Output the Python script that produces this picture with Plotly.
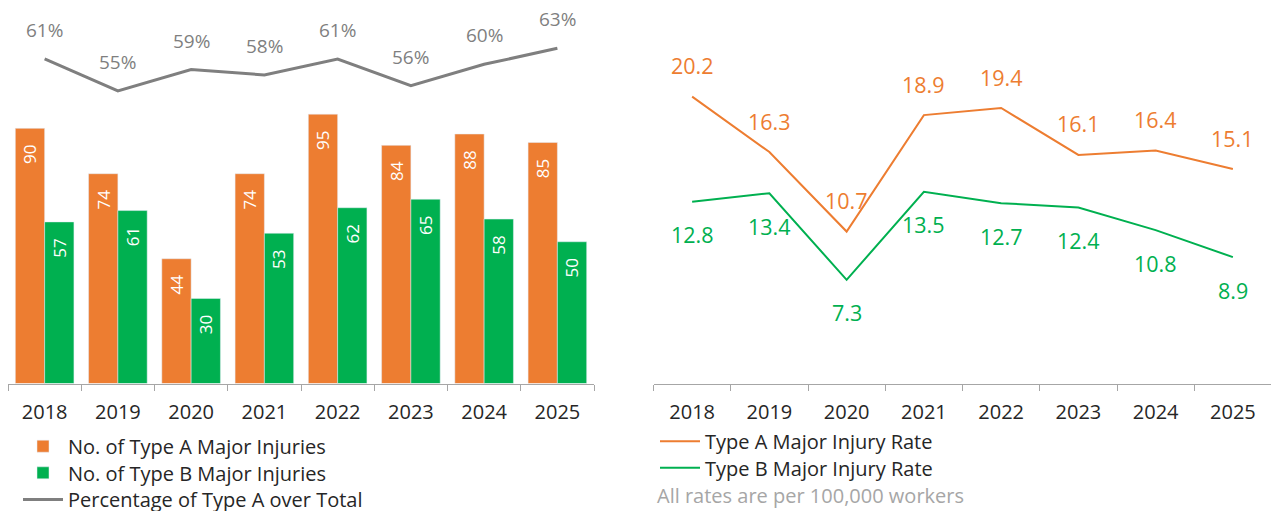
import plotly.graph_objects as go

years = ["2018", "2019", "2020", "2021", "2022", "2023", "2024", "2025"]
type_a_counts = [90, 74, 44, 74, 95, 84, 88, 85]
type_b_counts = [57, 61, 30, 53, 62, 65, 58, 50]
pct_type_a = [61, 55, 59, 58, 61, 56, 60, 63]
type_a_rate = [20.2, 16.3, 10.7, 18.9, 19.4, 16.1, 16.4, 15.1]
type_b_rate = [12.8, 13.4, 7.3, 13.5, 12.7, 12.4, 10.8, 8.9]

ORANGE = "#ED7D31"
GREEN = "#00B050"
GRAY = "#7F7F7F"
AXIS = "#A6A6A6"
TEXT = "#262626"
FONT = "Open Sans"

# page body has an 8px margin; figure starts at (8, 8) in the window
OFF = 8
W, H = 1279 - OFF, 511 - OFF


def px(x):
    return min(1.0, max(0.0, (x - OFF) / W))


def py(y):
    return min(1.0, max(0.0, 1 - (y - OFF) / H))


AXIS_Y = 383.5
TOP_Y = 8
plot_h = AXIS_Y - TOP_Y

NBSP = "\u00a0"
idx = list(range(len(years)))

fig = go.Figure()

fig.add_trace(go.Bar(
    x=years, y=type_a_counts, name="No. of Type A Major Injuries",
    marker_color=ORANGE, texttemplate="%{y}" + NBSP * 3, textposition="inside",
    insidetextanchor="end", textangle=-90,
    textfont=dict(color="white", size=19, family=FONT),
    xaxis="x", yaxis="y", legend="legend",
))
fig.add_trace(go.Bar(
    x=years, y=type_b_counts, name="No. of Type B Major Injuries",
    marker_color=GREEN, texttemplate="%{y}" + NBSP * 3, textposition="inside",
    insidetextanchor="end", textangle=-90,
    textfont=dict(color="white", size=19, family=FONT),
    xaxis="x", yaxis="y", legend="legend2",
))
fig.add_trace(go.Scatter(
    x=years, y=pct_type_a, name="Percentage of Type A over Total",
    mode="lines", line=dict(color=GRAY, width=3),
    xaxis="x", yaxis="y2", legend="legend3", cliponaxis=False,
))

fig.add_trace(go.Scatter(
    x=years, y=type_a_rate, name="Type A Major Injury Rate",
    mode="lines", line=dict(color=ORANGE, width=2),
    xaxis="x2", yaxis="y3", legend="legend4",
))
fig.add_trace(go.Scatter(
    x=years, y=type_b_rate, name="Type B Major Injury Rate",
    mode="lines", line=dict(color=GREEN, width=2),
    xaxis="x2", yaxis="y3", legend="legend5",
))

annotations = []
for i, v in zip(idx, pct_type_a):
    annotations.append(dict(x=i, y=v, xref="x", yref="y2", text=f"{v}%",
                            showarrow=False, yshift=29,
                            font=dict(color=GRAY, size=19, family=FONT)))
for i, v in zip(idx, type_a_rate):
    annotations.append(dict(x=i, y=v, xref="x2", yref="y3", text=f"{v:.1f}",
                            showarrow=False, yshift=31,
                            font=dict(color=ORANGE, size=21.5, family=FONT)))
for i, v in zip(idx, type_b_rate):
    annotations.append(dict(x=i, y=v, xref="x2", yref="y3", text=f"{v:.1f}",
                            showarrow=False, yshift=-33,
                            font=dict(color=GREEN, size=21.5, family=FONT)))
annotations.append(dict(x=px(655), y=py(495.5), xref="paper", yref="paper",
                        xanchor="left", yanchor="middle", showarrow=False,
                        text="All rates are per 100,000 workers",
                        font=dict(color=AXIS, size=20, family=FONT)))

ydom = [py(AXIS_Y), py(TOP_Y)]

xaxis_common = dict(
    type="category", range=[-0.5, 7.5], showgrid=False, zeroline=False,
    showline=True, linecolor=AXIS, linewidth=1, ticks="outside",
    tickson="boundaries", ticklen=6, tickcolor=AXIS,
    tickfont=dict(color=TEXT, size=20, family=FONT), ticklabelstandoff=10,
    fixedrange=True, automargin=False,
)


def legend_at(x_win, row_center_y):
    # legend item centre sits ~20px below the legend's top edge
    return dict(x=px(x_win), y=py(row_center_y - 20), xanchor="left",
                yanchor="top", orientation="v",
                font=dict(size=20, color=TEXT, family=FONT),
                bgcolor="rgba(0,0,0,0)", itemwidth=40)


fig.update_layout(
    width=W, height=H, autosize=False,
    margin=dict(l=0, r=0, t=0, b=0, pad=0, autoexpand=False),
    paper_bgcolor="white", plot_bgcolor="white",
    font=dict(family=FONT, color=TEXT, size=20),
    barmode="group", bargap=0.2, bargroupgap=0.0,
    xaxis=dict(domain=[px(8), px(594)], anchor="y", **xaxis_common),
    xaxis2=dict(domain=[px(653.5), px(1271.5)], anchor="y3", **xaxis_common),
    yaxis=dict(domain=ydom, range=[0, plot_h / 2.835], visible=False),
    yaxis2=dict(domain=ydom, range=[0, plot_h / 5.32], visible=False,
                overlaying="y", anchor="x"),
    yaxis3=dict(domain=ydom, range=[0, plot_h / 14.2], visible=False,
                anchor="x2"),
    legend=legend_at(18, 446.7),
    legend2=legend_at(18, 473.3),
    legend3=legend_at(18, 500),
    legend4=legend_at(655, 441.7),
    legend5=legend_at(655, 468.3),
    annotations=annotations,
    showlegend=True,
)

fig.write_html("out.html")
